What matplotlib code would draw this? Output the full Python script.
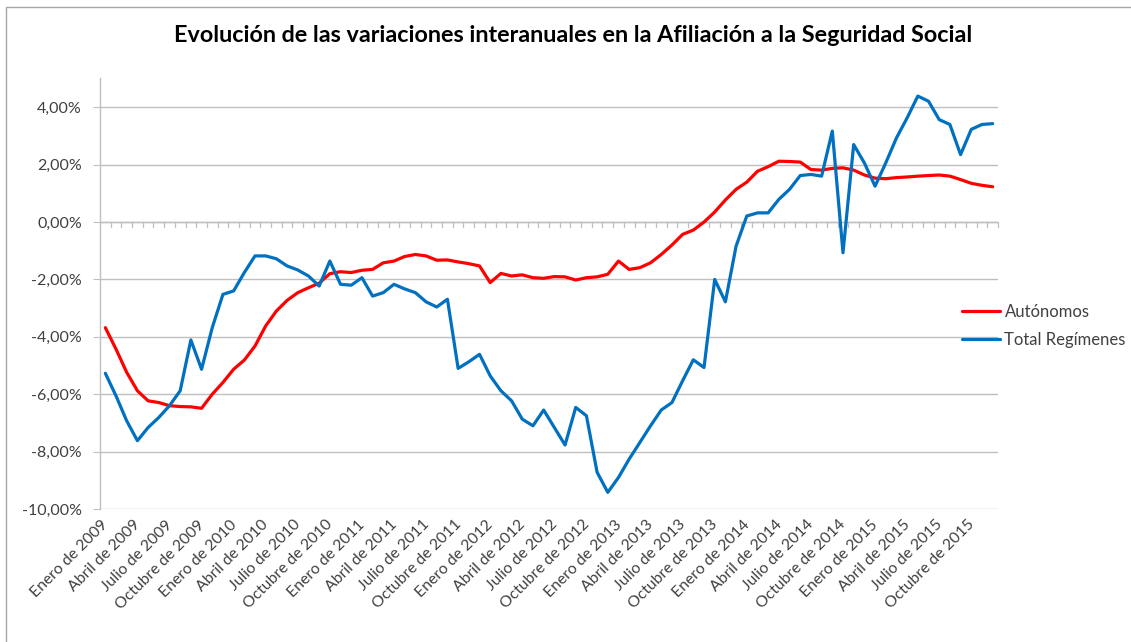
import matplotlib
matplotlib.use("Agg")
import matplotlib.pyplot as plt
from matplotlib.ticker import FuncFormatter
from matplotlib.patches import Rectangle

plt.rcParams['font.family'] = ['Lato', 'DejaVu Sans']

title = "Evolución de las variaciones interanuales en la Afiliación a la Seguridad Social"
series_names = ["Autónomos", "Total Regímenes"]

month_names = ["Enero", "Abril", "Julio", "Octubre"]
years = [2009, 2010, 2011, 2012, 2013, 2014, 2015]
tick_labels = [f"{m} de {y}" for y in years for m in month_names]

autonomos = [
    -3.68, -4.43, -5.24, -5.88, -6.23, -6.29, -6.40, -6.43, -6.44, -6.49,
    -6.00, -5.59, -5.13, -4.81, -4.32, -3.62, -3.10, -2.73, -2.46, -2.29,
    -2.13, -1.80, -1.73, -1.76, -1.68, -1.65, -1.42, -1.36, -1.20, -1.13,
    -1.18, -1.33, -1.32, -1.39, -1.45, -1.53, -2.11, -1.79, -1.88, -1.84,
    -1.94, -1.96, -1.90, -1.91, -2.02, -1.94, -1.91, -1.82, -1.36, -1.65,
    -1.59, -1.42, -1.13, -0.80, -0.43, -0.28, 0.00, 0.35, 0.77, 1.14,
    1.39, 1.77, 1.93, 2.12, 2.11, 2.09, 1.83, 1.81, 1.87, 1.89,
    1.81, 1.64, 1.53, 1.51, 1.55, 1.57, 1.60, 1.62, 1.64, 1.60,
    1.48, 1.35, 1.28, 1.23,
]

total = [
    -5.27, -6.06, -6.93, -7.62, -7.16, -6.81, -6.40, -5.88, -4.11, -5.13,
    -3.68, -2.52, -2.40, -1.76, -1.18, -1.18, -1.28, -1.53, -1.67, -1.88,
    -2.23, -1.36, -2.17, -2.20, -1.94, -2.58, -2.46, -2.17, -2.33, -2.46,
    -2.78, -2.96, -2.69, -5.10, -4.87, -4.61, -5.36, -5.88, -6.23, -6.87,
    -7.10, -6.55, -7.16, -7.77, -6.46, -6.75, -8.72, -9.42, -8.90, -8.26,
    -7.68, -7.10, -6.55, -6.29, -5.53, -4.80, -5.07, -2.00, -2.78, -0.84,
    0.21, 0.32, 0.32, 0.79, 1.14, 1.62, 1.66, 1.60, 3.17, -1.07,
    2.70, 2.06, 1.25, 2.06, 2.93, 3.63, 4.39, 4.21, 3.57, 3.40,
    2.35, 3.23, 3.40, 3.43,
]

colors = ["#FF0000", "#0070C0"]

W, H = 1131, 642
fig = plt.figure(figsize=(W / 100, H / 100), dpi=100)
ax = fig.add_axes([100 / W, 1 - 509 / H, (998 - 100) / W, (509 - 78) / H])

n = len(autonomos)
x = list(range(n))
ax.plot(x, autonomos, color=colors[0], lw=2.3, label=series_names[0],
        solid_capstyle='round', solid_joinstyle='round', zorder=3)
ax.plot(x, total, color=colors[1], lw=2.3, label=series_names[1],
        solid_capstyle='round', solid_joinstyle='round', zorder=3)

ax.set_xlim(-0.5, n - 0.5)
ax.set_ylim(-10, 5.02)

grid_c = "#BFBFBF"
ax.set_yticks([-10, -8, -6, -4, -2, 0, 2, 4])
ax.yaxis.set_major_formatter(FuncFormatter(lambda v, p: f"{v:.2f}%".replace(".", ",")))
ax.grid(axis='y', color=grid_c, lw=1.0)
ax.set_axisbelow(True)

for s in ['top', 'right', 'bottom']:
    ax.spines[s].set_visible(False)
ax.spines['left'].set_color(grid_c)
ax.spines['left'].set_linewidth(1.0)
ax.tick_params(axis='y', length=5, color=grid_c, labelsize=11.5, labelcolor="#404040", pad=8)

# x axis at zero with monthly tick marks
ax.axhline(0, color=grid_c, lw=1.0, zorder=2)
ax.set_xticks([])
for b in range(1, n + 1):
    ax.plot([b - 0.5, b - 0.5], [0, -0.17], color=grid_c, lw=0.9, zorder=2, clip_on=False)

# category labels every 3 months
for k, lab in enumerate(tick_labels):
    xi = 3 * k - 0.4
    ax.text(xi, -10.3, lab, rotation=45, ha='right', va='top', rotation_mode='anchor',
            fontsize=11.3, color="#404040", transform=ax.transData)

fig.text(573.5 / W, 1 - 35 / H, title, ha='center', va='center', fontsize=16.8,
         fontweight='bold', color='black')

leg = ax.legend(loc='center left', bbox_to_anchor=(962 / W, 1 - 326 / H),
                bbox_transform=fig.transFigure, frameon=False,
                fontsize=12, handlelength=2.3, handletextpad=0.25, labelspacing=0.75,
                borderaxespad=0, borderpad=0)
for t in leg.get_texts():
    t.set_color("#404040")

fig.patches.append(Rectangle((6 / W, -0.1), 1.2, 1 - 7 / H + 0.1, transform=fig.transFigure,
                             fill=False, edgecolor="#A6A6A6", lw=1.0))

fig.savefig("out.png", dpi=100)
